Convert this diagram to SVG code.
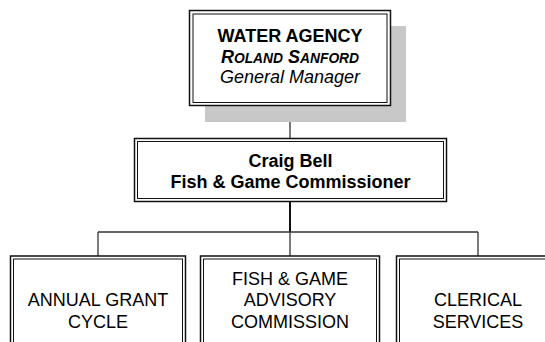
<svg xmlns="http://www.w3.org/2000/svg" width="545" height="342" viewBox="0 0 545 342">
<style>
.bg{fill:#ffffff}
.shadow{fill:#c8c8c8;stroke:none}
.outer{fill:#ffffff;stroke:#111;stroke-width:1.5}
.inner{fill:none;stroke:#111;stroke-width:1}
.conn{fill:none;stroke:#333;stroke-width:1.3}
.conn-main{fill:none;stroke:#111;stroke-width:2}
text{font-family:"Liberation Sans",Arial,sans-serif;font-size:18px;fill:#000;text-anchor:middle}
.b{font-weight:bold}
.i{font-style:italic}
</style>
<rect class="bg" x="0" y="0" width="545" height="342"/>
<g id="connectors">
  <line class="conn" x1="290" y1="105.5" x2="290" y2="138.5"/>
  <line class="conn-main" x1="290" y1="201.5" x2="290" y2="232"/>
  <line class="conn" x1="98" y1="232" x2="478" y2="232"/>
  <line class="conn" x1="98" y1="232" x2="98" y2="256"/>
  <line class="conn" x1="290" y1="232" x2="290" y2="256"/>
  <line class="conn" x1="478" y1="232" x2="478" y2="256"/>
</g>
<g id="water-agency">
  <rect class="shadow" x="205" y="26" width="201" height="96"/>
  <rect class="outer" x="189.5" y="10.5" width="201" height="95"/>
  <rect class="inner" x="193" y="14" width="194" height="88.5"/>
  <text class="b" x="290" y="42">WATER AGENCY</text>
  <text class="b i" x="290" y="63">R<tspan font-size="13.8">OLAND</tspan> S<tspan font-size="13.8">ANFORD</tspan></text>
  <text class="i" x="290" y="83">General Manager</text>
</g>
<g id="craig-bell">
  <rect class="outer" x="134.5" y="138.5" width="312" height="63"/>
  <rect class="inner" x="137.5" y="141.5" width="306" height="57"/>
  <text class="b" x="290.5" y="166.5">Craig Bell</text>
  <text class="b" x="290.5" y="187.5">Fish &amp; Game Commissioner</text>
</g>
<g id="annual-grant">
  <rect class="outer" x="10.5" y="256" width="175" height="100"/>
  <rect class="inner" x="13.5" y="259" width="169" height="100"/>
  <text x="98" y="306">ANNUAL GRANT</text>
  <text x="98" y="328">CYCLE</text>
</g>
<g id="advisory-commission">
  <rect class="outer" x="200.5" y="256" width="179" height="100"/>
  <rect class="inner" x="203.5" y="259" width="173" height="100"/>
  <text x="290" y="284.5">FISH &amp; GAME</text>
  <text x="290" y="306">ADVISORY</text>
  <text x="290" y="328">COMMISSION</text>
</g>
<g id="clerical-services">
  <rect class="outer" x="396.5" y="256" width="170" height="100"/>
  <rect class="inner" x="399.5" y="259" width="164" height="100"/>
  <text x="478" y="306">CLERICAL</text>
  <text x="478" y="328">SERVICES</text>
</g>
</svg>
